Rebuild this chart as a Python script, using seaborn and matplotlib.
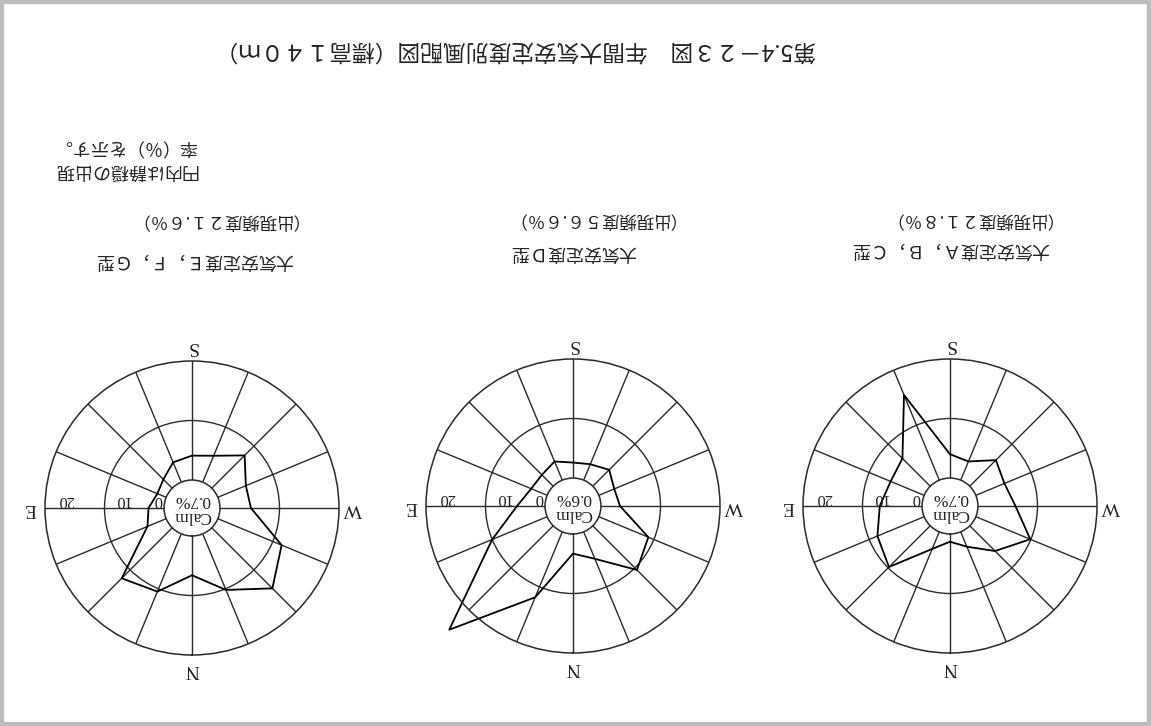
import numpy as np
import pandas as pd
import matplotlib
matplotlib.use("Agg")
import matplotlib.pyplot as plt
import seaborn as sns
from matplotlib.patches import Rectangle
from matplotlib.transforms import ScaledTranslation

# 16 wind directions, clockwise from N
directions = ["N", "NNE", "NE", "ENE", "E", "ESE", "SE", "SSE",
              "S", "SSW", "SW", "WSW", "W", "WNW", "NW", "NNW"]

# frequency (%) per direction
freq_efg = [6.6, 10.5, 12.0, 3.4, 2.6, 1.6, 2.1, 3.6, 4.1, 4.8, 7.8, 5.1, 5.2, 11.6, 14.4, 10.2]
freq_d = [3.3, 11.9, 24.7, 10.0, 4.7, 2.9, 2.7, 3.4, 2.6, 2.9, 3.9, 2.8, 3.2, 9.0, 10.5, 4.9]
freq_abc = [1.3, 3.1, 9.8, 8.5, 7.1, 6.1, 6.6, 15.5, 4.0, 3.4, 6.2, 5.2, 6.3, 9.9, 6.0, 2.7]

calm = ["0.7%", "0.6%", "0.7%"]
class_names = ["大気安定度Ｅ，Ｆ，Ｇ型", "大気安定度Ｄ型", "大気安定度Ａ，Ｂ，Ｃ型"]
occurrence = ["（出現頻度２１.６％）", "（出現頻度５６.６％）", "（出現頻度２１.８％）"]
ring_labels = ["0", "10", "20"]
ring_label_pos = [1.0, 7.0, 16.5]

title = "第5.4－２３図　年間大気安定度別風配図（標高１４０ｍ）"
note = "円内は静穏の出現\n率（％）を示す。"

sns.set_theme(style="white")
plt.rcParams["font.family"] = ["Noto Sans CJK JP", "DejaVu Sans"]

W, H = 1151, 726
fig = plt.figure(figsize=(W / 100, H / 100), dpi=100)
fig.patch.set_facecolor("white")

centers = [(192, 508), (573, 506), (950, 506)]
R = 147
series = [freq_efg, freq_d, freq_abc]
serif = "Liberation Serif"

for i, (cx, cy) in enumerate(centers):
    ax = fig.add_axes([(cx - R) / W, (H - cy - R) / H, 2 * R / W, 2 * R / H],
                      projection="polar")
    vals = series[i]
    df = pd.DataFrame({
        "direction": directions + [directions[0]],
        "theta": np.deg2rad(np.arange(len(directions) + 1) * 22.5),
        "freq": vals + [vals[0]],
    })
    sns.lineplot(data=df, x="theta", y="freq", ax=ax, sort=False,
                 estimator=None, color="black", lw=1.3)
    ax.lines[-1].set_clip_on(False)
    ax.set_xlabel("")
    ax.set_ylabel("")

    # rotated 180 deg like the scan: N at bottom, E on the left
    ax.set_theta_zero_location("S")
    ax.set_theta_direction(-1)
    ax.set_ylim(0, 20)
    ax.set_rorigin(-4.7)
    ax.set_xticks(np.deg2rad(np.arange(0, 360, 22.5)))
    ax.set_xticklabels([])
    ax.set_yticks([10])
    ax.set_yticklabels([])
    ax.grid(True, color="#2a2a2a", lw=1.0)
    for sp in ax.spines.values():
        sp.set_color("#2a2a2a")
        sp.set_linewidth(1.1)

    for lab, ang in zip(["N", "E", "S", "W"], [0, 90, 180, 270]):
        ax.text(np.deg2rad(ang), 22.4, lab, rotation=180, ha="center", va="center",
                fontsize=14, fontfamily=serif, color="#222")
    up = ax.transData + ScaledTranslation(0, 0.08, fig.dpi_scale_trans)
    for lab, r in zip(ring_labels, ring_label_pos):
        ax.text(np.pi / 2, r, lab, transform=up, rotation=180, ha="center",
                va="center", fontsize=12, fontfamily=serif, color="#222", zorder=5)
    ax.text(0, -4.7, "Calm\n" + calm[i], rotation=180, ha="center", va="center",
            fontsize=12.5, fontfamily=serif, linespacing=0.95, color="#222")

# upside-down captions
label_pos = [((194, 260), (198, 221)), ((573, 252), (575, 220)), ((950, 249), (952, 220))]
for i, (p1, p2) in enumerate(label_pos):
    fig.text(p1[0] / W, 1 - p1[1] / H, class_names[i], rotation=180,
             ha="center", va="center", fontsize=13, color="#222")
    fig.text(p2[0] / W, 1 - p2[1] / H, occurrence[i], rotation=180,
             ha="center", va="center", fontsize=12.5, color="#222")

fig.text(197 / W, 1 - 158 / H, note, rotation=180, ha="right", va="center",
         multialignment="left", fontsize=13, linespacing=1.45, color="#222")
fig.text(516 / W, 1 - 50 / H, title, rotation=180, ha="center", va="center",
         fontsize=16.4, color="#222")

fig.patches.append(Rectangle((0, 0), 1, 1, transform=fig.transFigure, fill=False,
                             edgecolor="#bdbdbd", linewidth=6))

plt.savefig("out.png", dpi=100)
plt.close()
